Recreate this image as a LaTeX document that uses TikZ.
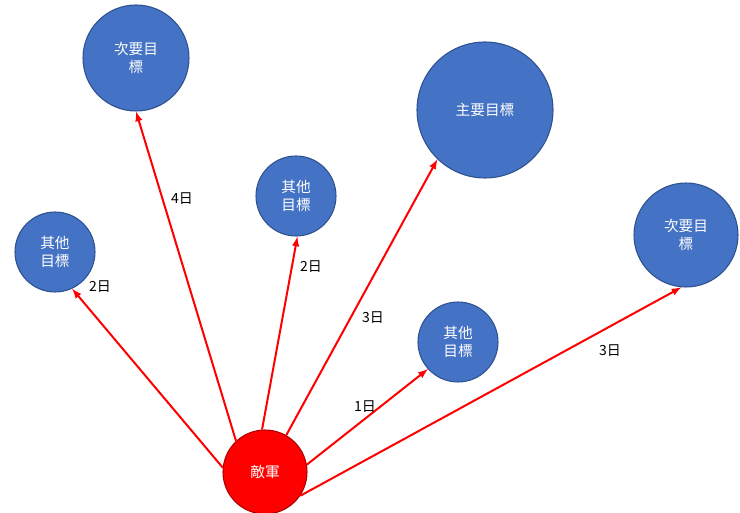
\documentclass[tikz,border=0pt]{standalone}
\usepackage{fontspec}
\setmainfont{Noto Sans CJK TC}
\begin{document}
\begin{tikzpicture}[x=0.75pt,y=-0.75pt,
  tgt/.style={circle,fill={rgb,255:red,68;green,114;blue,196},draw={rgb,255:red,47;green,82;blue,143},line width=0.8pt,text=white,align=center,font=\fontsize{11}{13}\selectfont,inner sep=0pt},
  enemy/.style={circle,fill=red,draw={rgb,255:red,170;green,0;blue,0},line width=0.8pt,text=white,font=\fontsize{11}{13}\selectfont,minimum size=84*0.75pt,inner sep=0pt},
  arr/.style={-latex,red,line width=1.5pt},
  lbl/.style={font=\fontsize{10.5}{12}\selectfont,text=black}]
\useasboundingbox (0,0) rectangle (740,513);
\node[enemy] (e) at (265,472) {敵軍};
\node[tgt,minimum size=106*0.75pt] (t1) at (136,58) {次要目\\標};
\node[tgt,minimum size=80*0.75pt] (t2) at (55,252) {其他\\目標};
\node[tgt,minimum size=80*0.75pt] (t3) at (296,196) {其他\\目標};
\node[tgt,minimum size=136*0.75pt] (t4) at (485,110) {主要目標};
\node[tgt,minimum size=104*0.75pt] (t5) at (686,235) {次要目\\標};
\node[tgt,minimum size=80*0.75pt] (t6) at (458,342) {其他\\目標};
\draw[arr] (e.133) -- (t1.270);
\draw[arr] (e.174) -- (t2.-65);
\draw[arr] (e.94) -- (t3.272);
\draw[arr] (e.60) -- (t4.226);
\draw[arr] (e.-34) -- (t5.265);
\draw[arr] (e.10) -- (t6.222);
\node[lbl] (l1) at (182,199) {4日};
\node[lbl] (l2) at (100,287) {2日};
\node[lbl] (l3) at (311,267) {2日};
\node[lbl] (l4) at (373,318) {3日};
\node[lbl] (l5) at (365,407) {1日};
\node[lbl] (l6) at (610,351) {3日};
\end{tikzpicture}
\end{document}
